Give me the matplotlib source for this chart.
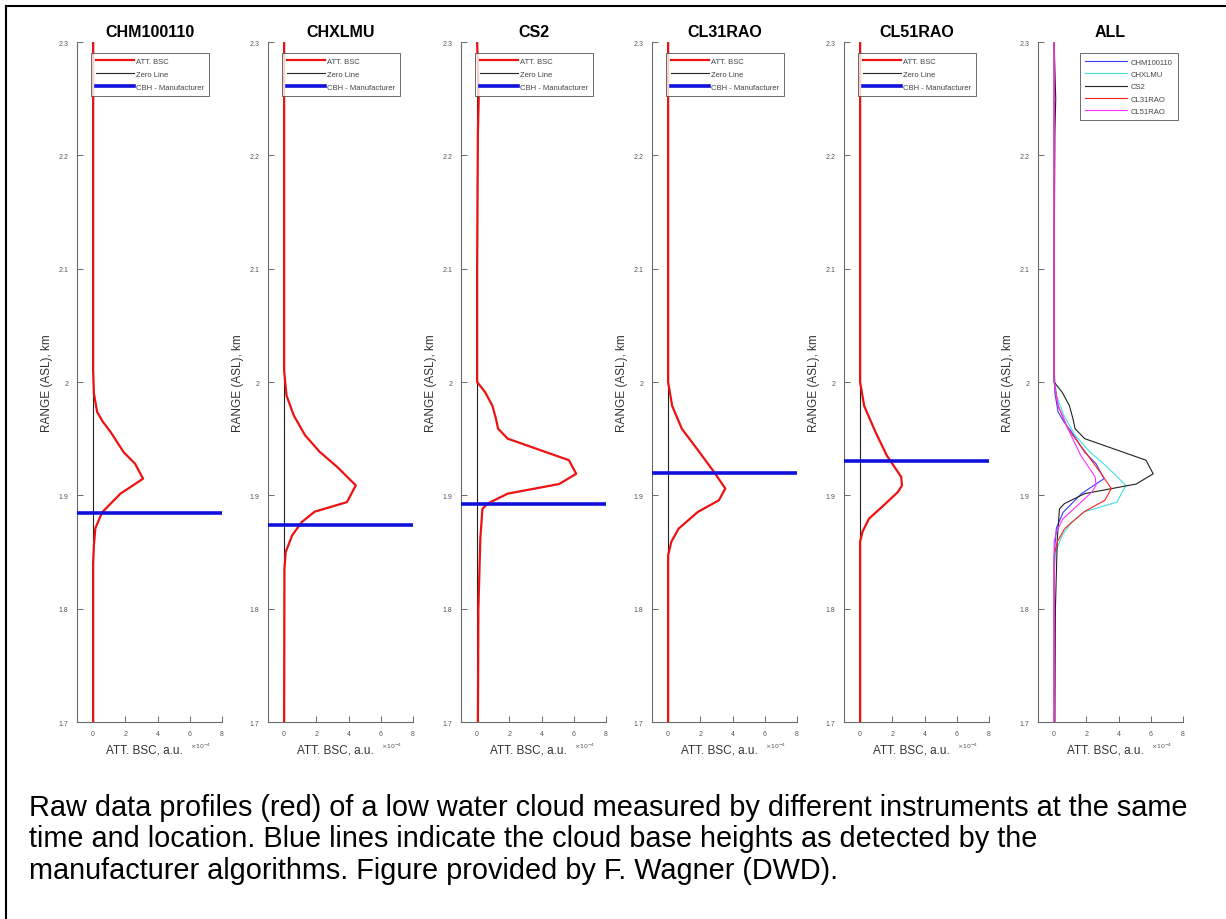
import matplotlib
matplotlib.use("Agg")
import matplotlib.pyplot as plt
from matplotlib.lines import Line2D
from matplotlib.ticker import FuncFormatter

plt.rcParams['font.family'] = ['Liberation Sans', 'DejaVu Sans']

# ---------------- data ----------------
instruments = ["CHM100110", "CHXLMU", "CS2", "CL31RAO", "CL51RAO"]

chm_range = [2.30, 2.10, 2.01, 1.99, 1.9735, 1.965, 1.956, 1.938, 1.928, 1.9147,
             1.9015, 1.885, 1.871, 1.856, 1.84, 1.70]
chm_bsc = [0.0, 0.0, 0.0, 0.05, 0.25, 0.6, 1.08, 1.9, 2.6, 3.1,
           1.7, 0.56, 0.14, 0.05, 0.0, 0.0]

chx_range = [2.30, 2.10, 2.01, 1.988, 1.9705, 1.953, 1.9385, 1.925, 1.9088, 1.894,
             1.8856, 1.8765, 1.8647, 1.850, 1.835, 1.70]
chx_bsc = [0.0, 0.0, 0.0, 0.15, 0.6, 1.3, 2.2, 3.3, 4.45, 3.9,
           1.9, 1.1, 0.5, 0.1, 0.02, 0.0]

cs2_range = [2.30, 2.25, 2.22, 2.10, 2.00, 1.991, 1.979, 1.9676, 1.9588, 1.95,
             1.931, 1.919, 1.910, 1.9015, 1.8927, 1.888, 1.862, 1.80, 1.70]
cs2_bsc = [0.0, 0.1, 0.05, 0.0, 0.0, 0.5, 0.95, 1.17, 1.3, 1.9,
           5.7, 6.15, 5.1, 1.9, 0.64, 0.33, 0.2, 0.08, 0.05]

cl31_range = [2.30, 2.10, 2.00, 1.979, 1.9588, 1.938, 1.9206, 1.906, 1.8956, 1.8854,
              1.8706, 1.859, 1.847, 1.70]
cl31_bsc = [0.0, 0.0, 0.0, 0.25, 0.85, 1.95, 2.85, 3.55, 3.15, 1.85,
            0.65, 0.2, 0.0, 0.0]

cl51_range = [2.30, 2.10, 2.00, 1.979, 1.956, 1.9353, 1.9162, 1.9088, 1.903, 1.891,
              1.8794, 1.868, 1.859, 1.70]
cl51_bsc = [0.0, 0.0, 0.0, 0.25, 0.95, 1.65, 2.55, 2.6, 2.35, 1.45,
            0.55, 0.15, 0.0, 0.0]

cbh_manufacturer = [1.8847, 1.874, 1.8927, 1.9197, 1.930]

profiles_range = [chm_range, chx_range, cs2_range, cl31_range, cl51_range]
profiles_bsc = [chm_bsc, chx_bsc, cs2_bsc, cl31_bsc, cl51_bsc]

all_colors = ["#3a3aff", "#40e0e0", "#202020", "#ff2020", "#ff30ff"]

y_ticks = [1.7, 1.8, 1.9, 2.0, 2.1, 2.2, 2.3]
x_ticks = [0, 2, 4, 6, 8]

caption_lines = [
    "Raw data profiles (red) of a low water cloud measured by different instruments at the same",
    "time and location. Blue lines indicate the cloud base heights as detected by the",
    "manufacturer algorithms. Figure provided by F. Wagner (DWD).",
]

# ---------------- layout ----------------
W, H = 1226, 920
fig = plt.figure(figsize=(W / 100, H / 100), dpi=100)

ax_lefts = [77, 268, 461, 652, 844, 1038]
ax_w = 145
ax_top, ax_bot = 43, 723

axis_gray = "#6a6a6a"
tick_gray = "#555555"


def style_axis(ax, title):
    ax.set_xlim(-1, 8)
    ax.set_ylim(1.7, 2.3)
    ax.set_xticks(x_ticks)
    ax.set_yticks(y_ticks)
    ax.yaxis.set_major_formatter(FuncFormatter(lambda v, p: "%g" % round(v, 2)))
    for s in ["top", "right"]:
        ax.spines[s].set_visible(False)
    for s in ["left", "bottom"]:
        ax.spines[s].set_color(axis_gray)
        ax.spines[s].set_linewidth(0.8)
    ax.tick_params(direction="in", length=4, width=0.7, colors=axis_gray,
                   labelsize=5, labelcolor=tick_gray, pad=6)
    ax.set_title(title, fontsize=11.5, fontweight="bold", pad=4)
    ax.set_ylabel("RANGE (ASL), km", fontsize=8.5, color="#333333")
    ax.yaxis.set_label_coords(-24 / ax_w, 0.5)
    ax.text(0.466, -0.040, "ATT. BSC, a.u.", transform=ax.transAxes,
            ha="center", va="center", fontsize=8.5, color="#333333")
    ax.text(0.78, -0.035, r"$\times10^{-4}$", transform=ax.transAxes,
            ha="left", va="center", fontsize=4.5, color="#555555")


axes = []
for i, left in enumerate(ax_lefts):
    ax = fig.add_axes([left / W, 1 - ax_bot / H, ax_w / W, (ax_bot - ax_top) / H])
    axes.append(ax)

for i, name in enumerate(instruments):
    ax = axes[i]
    style_axis(ax, name)
    h1, = ax.plot(profiles_bsc[i], profiles_range[i], color="#ee1111", lw=1.6,
                  label="ATT. BSC", zorder=3)
    h2 = ax.axvline(0, color="#222222", lw=0.8, label="Zero Line", zorder=2)
    h3 = ax.axhline(cbh_manufacturer[i], color="#1010dd", lw=2.6,
                    label="CBH - Manufacturer", zorder=4)
    leg = ax.legend(handles=[h1, h2, h3], loc="upper left",
                    bbox_to_anchor=(0.097, 0.984), fontsize=5.5, frameon=True,
                    fancybox=False, handlelength=5, borderpad=0.6,
                    labelspacing=0.75, handletextpad=0.3, borderaxespad=0)
    leg.get_frame().set_edgecolor("#444444")
    leg.get_frame().set_linewidth(0.7)
    for t in leg.get_texts():
        t.set_color("#444444")

ax = axes[5]
style_axis(ax, "ALL")
for i, name in enumerate(instruments):
    ax.plot(profiles_bsc[i], profiles_range[i], color=all_colors[i], lw=0.8,
            label=name)
leg = ax.legend(loc="upper left", bbox_to_anchor=(0.29, 0.984), fontsize=5.5,
                frameon=True, fancybox=False, handlelength=5.5, borderpad=0.7,
                labelspacing=0.65, handletextpad=0.4, borderaxespad=0)
leg.get_frame().set_edgecolor("#444444")
leg.get_frame().set_linewidth(0.7)
for t in leg.get_texts():
    t.set_color("#444444")

# ---------------- caption ----------------
for k, line in enumerate(caption_lines):
    fig.text(29 / W, 1 - (816 + 31.5 * k) / H, line, fontsize=20.8,
             ha="left", va="baseline", color="black")

# ---------------- border ----------------
fig.add_artist(Line2D([6 / W, 6 / W], [0, 1 - 7 / H], color="black", lw=1.5,
                      transform=fig.transFigure))
fig.add_artist(Line2D([6 / W, 1], [1 - 7 / H, 1 - 7 / H], color="black", lw=1.5,
                      transform=fig.transFigure))

fig.savefig("out.png", dpi=100)
